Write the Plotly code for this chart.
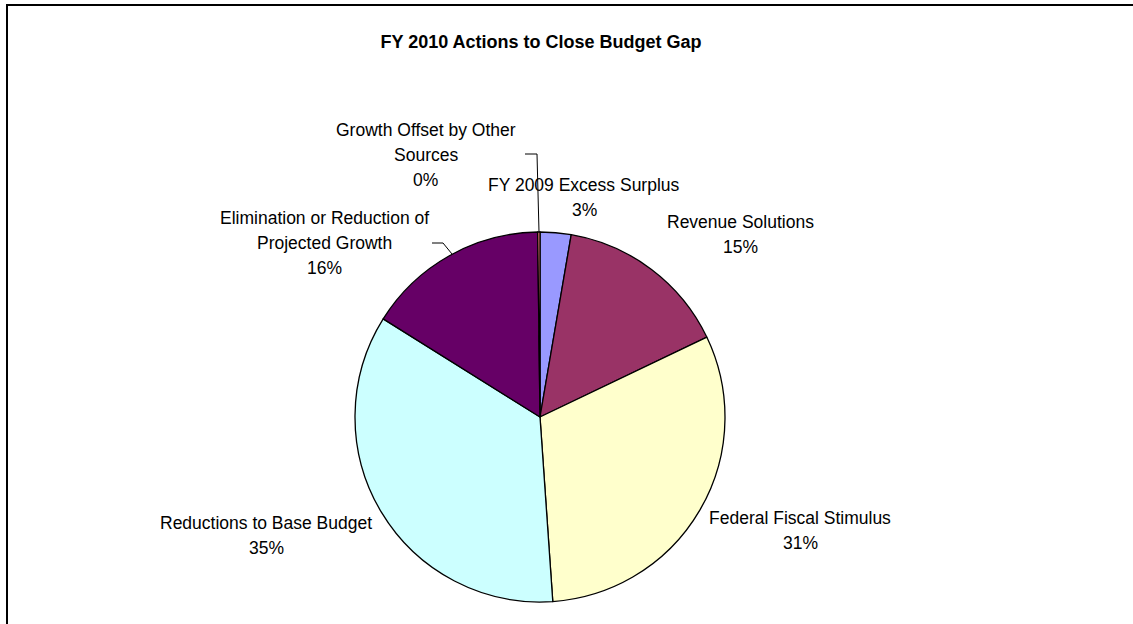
import plotly.graph_objects as go

# ---- data ----
categories = [
    "FY 2009 Excess Surplus",
    "Revenue Solutions",
    "Federal Fiscal Stimulus",
    "Reductions to Base Budget",
    "Elimination or Reduction of Projected Growth",
    "Growth Offset by Other Sources",
]
values = [2.7, 15.2, 31.0, 35.0, 15.9, 0.2]
label_lines = [
    ["FY 2009 Excess Surplus"],
    ["Revenue Solutions"],
    ["Federal Fiscal Stimulus"],
    ["Reductions to Base Budget"],
    ["Elimination or Reduction of", "Projected Growth"],
    ["Growth Offset by Other", "Sources"],
]
colors = ["#9999FF", "#993366", "#FFFFCC", "#CCFFFF", "#660066", "#FF8080"]
title = "FY 2010 Actions to Close Budget Gap"

# ---- layout helpers (pixel -> paper) ----
W, H = 1133, 624
def px(x):
    return x / W
def py(y):
    return 1 - y / H

# label first-line centres (pixels) and line spacing
label_pos = [(584, 185), (740, 222), (800, 518), (266, 523), (324, 218), (426, 130)]
LINE_GAP = 25
FONT = dict(family="Liberation Sans, Arial", size=17.5, color="black")

total = sum(values)
pct = [f"{round(v / total * 100)}%" for v in values]

fig = go.Figure(
    go.Pie(
        labels=categories,
        values=values,
        sort=False,
        direction="clockwise",
        rotation=0,
        marker=dict(colors=colors, line=dict(color="black", width=1.3)),
        textinfo="none",
        hoverinfo="label+percent",
        showlegend=False,
        domain=dict(x=[px(355), px(725)], y=[py(602), py(232)]),
    )
)

annotations = []
for (lx, ly), lines, p in zip(label_pos, label_lines, pct):
    for i, line in enumerate(lines + [p]):
        annotations.append(
            dict(
                x=px(lx), y=py(ly + i * LINE_GAP), xref="paper", yref="paper",
                text=line, showarrow=False,
                xanchor="center", yanchor="middle", align="center",
                font=FONT,
            )
        )

shapes = [
    # chart frame
    dict(type="rect", xref="paper", yref="paper",
         x0=px(7), y0=py(640), x1=px(1150), y1=py(5),
         line=dict(color="black", width=2)),
    # leader lines
    dict(type="path", xref="paper", yref="paper",
         path=f"M {px(525)} {py(154)} L {px(537)} {py(154)} L {px(539)} {py(232)}",
         line=dict(color="black", width=1)),
    dict(type="path", xref="paper", yref="paper",
         path=f"M {px(432)} {py(243)} L {px(443)} {py(243)} L {px(452)} {py(254)}",
         line=dict(color="black", width=1)),
]

fig.update_layout(
    width=W, height=H,
    margin=dict(l=0, r=0, t=0, b=0),
    paper_bgcolor="white",
    plot_bgcolor="white",
    title=dict(text=f"<b>{title}</b>", x=px(541), y=py(42), xanchor="center", yanchor="middle",
               font=dict(family="Liberation Sans, Arial", size=18, color="black")),
    annotations=annotations,
    shapes=shapes,
)

fig.write_html(
    "out.html",
    config={"displayModeBar": False},
    post_script="document.body.style.margin='0';document.body.style.padding='0';document.body.style.overflow='hidden';",
)
